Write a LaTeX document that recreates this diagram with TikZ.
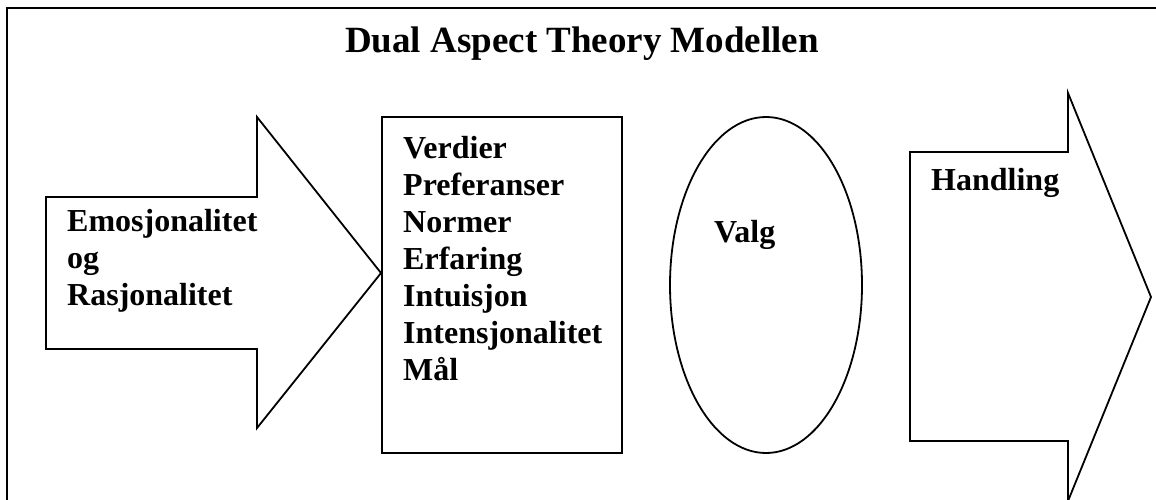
\documentclass[tikz,border=0pt]{standalone}
\usepackage{fontspec}
\setmainfont{Liberation Serif}
\begin{document}
\begin{tikzpicture}[x=1pt,y=-1pt,
  shapeline/.style={draw, line width=1.8pt, line join=miter},
  lbl/.style={inner sep=0pt, align=left, font=\bfseries\fontsize{32}{37}\selectfont, anchor=base west}]
\useasboundingbox (0,0) rectangle (1156,500);
% frame
\draw[shapeline] (7,510) -- (7,8) -- (1170,8);
% title
\node[lbl, font=\bfseries\fontsize{37}{42}\selectfont] (title) at (345,53) {Dual Aspect Theory Modellen};
% left arrow
\draw[shapeline] (46,197) -- (257,197) -- (257,117) -- (381,273) -- (257,428) -- (257,349) -- (46,349) -- cycle;
\node[lbl] (emo) at (67,305) {Emosjonalitet\\og\\Rasjonalitet};
% box
\draw[shapeline] (382,117) rectangle (622,453);
\node[lbl] (verdier) at (403,380) {Verdier\\Preferanser\\Normer\\Erfaring\\Intuisjon\\Intensjonalitet\\Mål};
% ellipse
\draw[shapeline] (766,285) ellipse [x radius=96pt, y radius=168pt];
\node[lbl] (valg) at (714,242) {Valg};
% right arrow
\draw[shapeline] (910,152) -- (1068,152) -- (1068,93) -- (1151,297) -- (1068,501) -- (1068,441) -- (910,441) -- cycle;
\node[lbl] (handling) at (931,190) {Handling};
\end{tikzpicture}
\end{document}
